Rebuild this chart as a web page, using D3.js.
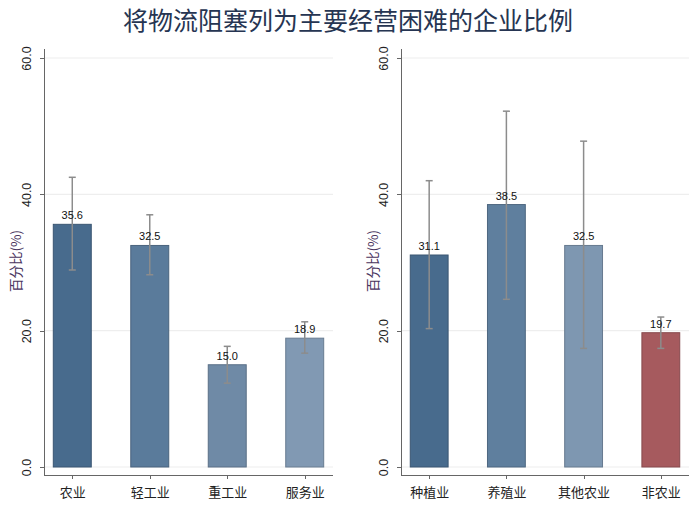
<!DOCTYPE html>
<html lang="zh">
<head>
<meta charset="utf-8">
<title>物流阻塞</title>
<style>
  body { margin: 0; background: #fff; }
  .axis path, .axis line { stroke: #666; stroke-width: 1px; shape-rendering: crispEdges; }
  .axis text { font-family: "Liberation Sans", Arial, sans-serif; font-size: 12.5px; fill: #222; }
  .xaxis text { font-family: "Noto Sans CJK SC", sans-serif; font-size: 13px; }
  .grid line { stroke: #eeeeee; stroke-width: 1.2px; }
  .val { font-family: "Liberation Sans", Arial, sans-serif; font-size: 11px; fill: #111; text-anchor: middle; }
</style>
</head>
<body>
<script src="https://cdnjs.cloudflare.com/ajax/libs/d3/7.8.5/d3.min.js"></script>
<script>
// left panel: by industry
var leftCats = ["农业", "轻工业", "重工业", "服务业"];
var leftVals = [35.6, 32.5, 15.0, 18.9];
var leftLo   = [28.9, 28.2, 12.3, 16.7];
var leftHi   = [42.5, 37.0, 17.7, 21.3];
var leftColors = ["#486b8d", "#5a7b9b", "#6f8aa6", "#8199b3"];

// right panel: agriculture breakdown
var rightCats = ["种植业", "养殖业", "其他农业", "非农业"];
var rightVals = [31.1, 38.5, 32.5, 19.7];
var rightLo   = [20.3, 24.6, 17.4, 17.4];
var rightHi   = [42.0, 52.2, 47.8, 22.0];
var rightColors = ["#486b8d", "#5f7f9e", "#7e97b1", "#a65a5e"];

var yTicks = [0, 20, 40, 60];

var W = 700, H = 519;
var svg = d3.select("body").append("svg").attr("width", W).attr("height", H);

svg.append("text")
  .attr("x", 348).attr("y", 30)
  .attr("text-anchor", "middle")
  .style("font-family", "'Noto Sans CJK SC', sans-serif")
  .style("font-size", "25px")
  .style("fill", "#263552")
  .text("将物流阻塞列为主要经营困难的企业比例");

function darker(c) { return d3.color(c).darker(0.6).formatHex(); }

function panel(x0, x1, cats, vals, lo, hi, colors) {
  var y = d3.scaleLinear().domain([0, 60]).range([467, 58]);
  var x = d3.scalePoint().domain(cats).range([x0, x1]).padding(0.365);
  var bw = x.step() * 0.49;
  var g = svg.append("g");

  // gridlines
  g.append("g").attr("class", "grid")
    .selectAll("line").data(yTicks).enter().append("line")
    .attr("x1", x0).attr("x2", x1)
    .attr("y1", function(d) { return y(d); })
    .attr("y2", function(d) { return y(d); });

  // bars
  g.selectAll("rect").data(vals).enter().append("rect")
    .attr("x", function(d, i) { return x(cats[i]) - bw / 2; })
    .attr("y", function(d) { return y(d); })
    .attr("width", bw)
    .attr("height", function(d) { return y(0) - y(d); })
    .attr("fill", function(d, i) { return colors[i]; })
    .attr("stroke", function(d, i) { return darker(colors[i]); })
    .attr("stroke-width", 1);

  // error bars
  var eb = g.selectAll("g.err").data(vals).enter().append("g").attr("class", "err")
    .attr("stroke", "#8c8c8c").attr("stroke-width", 1.5);
  eb.append("line")
    .attr("x1", function(d, i) { return x(cats[i]); })
    .attr("x2", function(d, i) { return x(cats[i]); })
    .attr("y1", function(d, i) { return y(lo[i]); })
    .attr("y2", function(d, i) { return y(hi[i]); });
  [lo, hi].forEach(function(arr) {
    eb.append("line")
      .attr("x1", function(d, i) { return x(cats[i]) - 3.5; })
      .attr("x2", function(d, i) { return x(cats[i]) + 3.5; })
      .attr("y1", function(d, i) { return y(arr[i]); })
      .attr("y2", function(d, i) { return y(arr[i]); });
  });

  // value labels
  g.selectAll("text.val").data(vals).enter().append("text")
    .attr("class", "val")
    .attr("x", function(d, i) { return x(cats[i]); })
    .attr("y", function(d) { return y(d) - 5; })
    .text(function(d) { return d.toFixed(1); });

  // y axis
  var ya = g.append("g").attr("class", "axis")
    .attr("transform", "translate(" + x0 + ",0)")
    .call(d3.axisLeft(y).tickValues(yTicks).tickFormat(d3.format(".1f")).tickSize(4).tickPadding(4));
  ya.select(".domain").attr("d", "M0,49V475");
  ya.selectAll(".tick text")
    .attr("transform", "rotate(-90)")
    .attr("x", 0).attr("y", -13)
    .attr("dy", "0")
    .style("text-anchor", "middle");

  // x axis
  var xa = g.append("g").attr("class", "axis xaxis")
    .attr("transform", "translate(0,475)")
    .call(d3.axisBottom(x).tickSize(4).tickPadding(9));
  xa.select(".domain").attr("d", "M" + x0 + ",0H" + x1);

  // y title
  g.append("text")
    .attr("transform", "translate(" + (x0 - 23) + ",261) rotate(-90)")
    .attr("text-anchor", "middle")
    .style("font-family", "'Noto Sans CJK SC', sans-serif")
    .style("font-size", "13.5px")
    .style("fill", "#4a3560")
    .text("百分比(%)");
}

panel(44, 333, leftCats, leftVals, leftLo, leftHi, leftColors);
panel(401, 689, rightCats, rightVals, rightLo, rightHi, rightColors);
</script>
</body>
</html>
